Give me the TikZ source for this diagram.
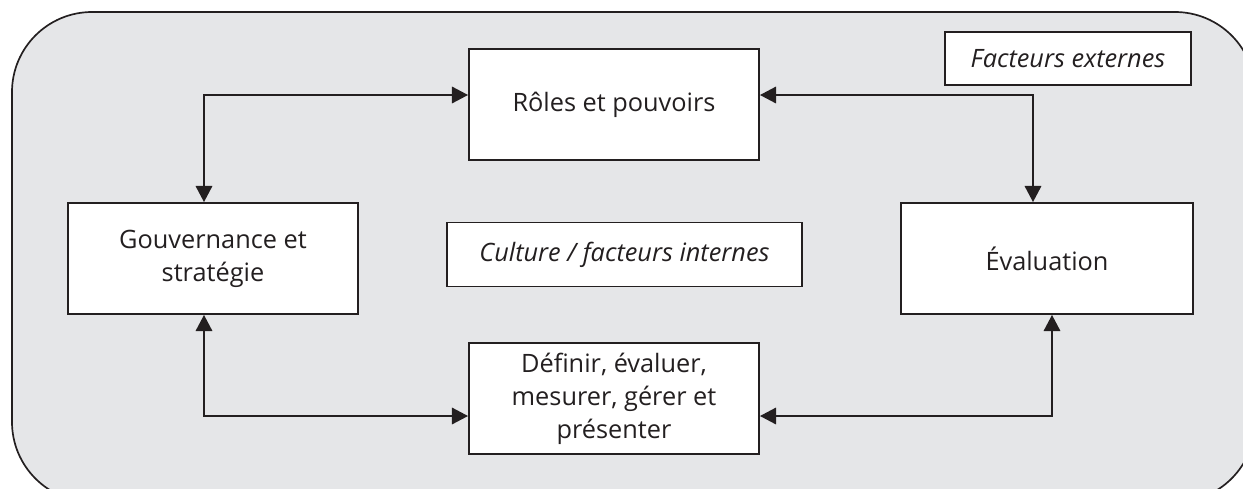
\documentclass[tikz,border=0pt]{standalone}
\usepackage{fontspec}
\setmainfont{Open Sans}
\usetikzlibrary{positioning,calc,arrows.meta}
\definecolor{panelgray}{RGB}{229,230,232}
\definecolor{inkdark}{RGB}{35,31,32}

\begin{document}
\begin{tikzpicture}[x=0.025cm,y=-0.025cm,
    box/.style={draw=inkdark,fill=white,line width=1.2pt,text=inkdark,
      align=center,inner sep=0pt,font=\fontsize{18}{23.5}\selectfont},
    link/.style={{Triangle[length=11.5pt,width=11.5pt]}-{Triangle[length=11.5pt,width=11.5pt]},
      line width=2pt,draw=inkdark}]
    \useasboundingbox (0,0) rectangle (1243,488);
    \clip (0,0) rectangle (1243,488);
    % outer panel
    \filldraw[fill=panelgray,draw=inkdark,line width=1.2pt,rounded corners=2cm]
      (12,12) rectangle (1255,502);
    % boxes
    \node[box,minimum width=7.25cm,minimum height=2.775cm] (roles) at (614,104.5) {Rôles et pouvoirs};
    \node[box,minimum width=7.25cm,minimum height=2.775cm] (gouv) at (213,258.5) {Gouvernance et\\stratégie};
    \node[box,minimum width=7.3cm,minimum height=2.775cm] (eval) at (1047,258.5) {Évaluation};
    \node[box,minimum width=8.875cm,minimum height=1.6cm,font=\fontsize{18}{23.5}\selectfont\itshape] (culture) at (624.5,254.5) {Culture / facteurs internes};
    \node[box,minimum width=7.25cm,minimum height=2.775cm] (define) at (614,398.5) {Définir, évaluer,\\mesurer, gérer et\\présenter};
    \node[box,minimum width=6.15cm,minimum height=1.325cm,font=\fontsize{18}{23.5}\selectfont\itshape] (extern) at (1068,58.5) {Facteurs externes};
    % connectors
    \draw[link] ($(gouv.north)+(-9,0)$) |- ($(roles.west)+(0,-9.5)$);
    \draw[link] ($(roles.east)+(0,-9.5)$) -| ($(eval.north)+(-14,0)$);
    \draw[link] ($(gouv.south)+(-9,0)$) |- ($(define.west)+(0,17.5)$);
    \draw[link] ($(define.east)+(0,17.5)$) -| ($(eval.south)+(5,0)$);
\end{tikzpicture}
\end{document}
